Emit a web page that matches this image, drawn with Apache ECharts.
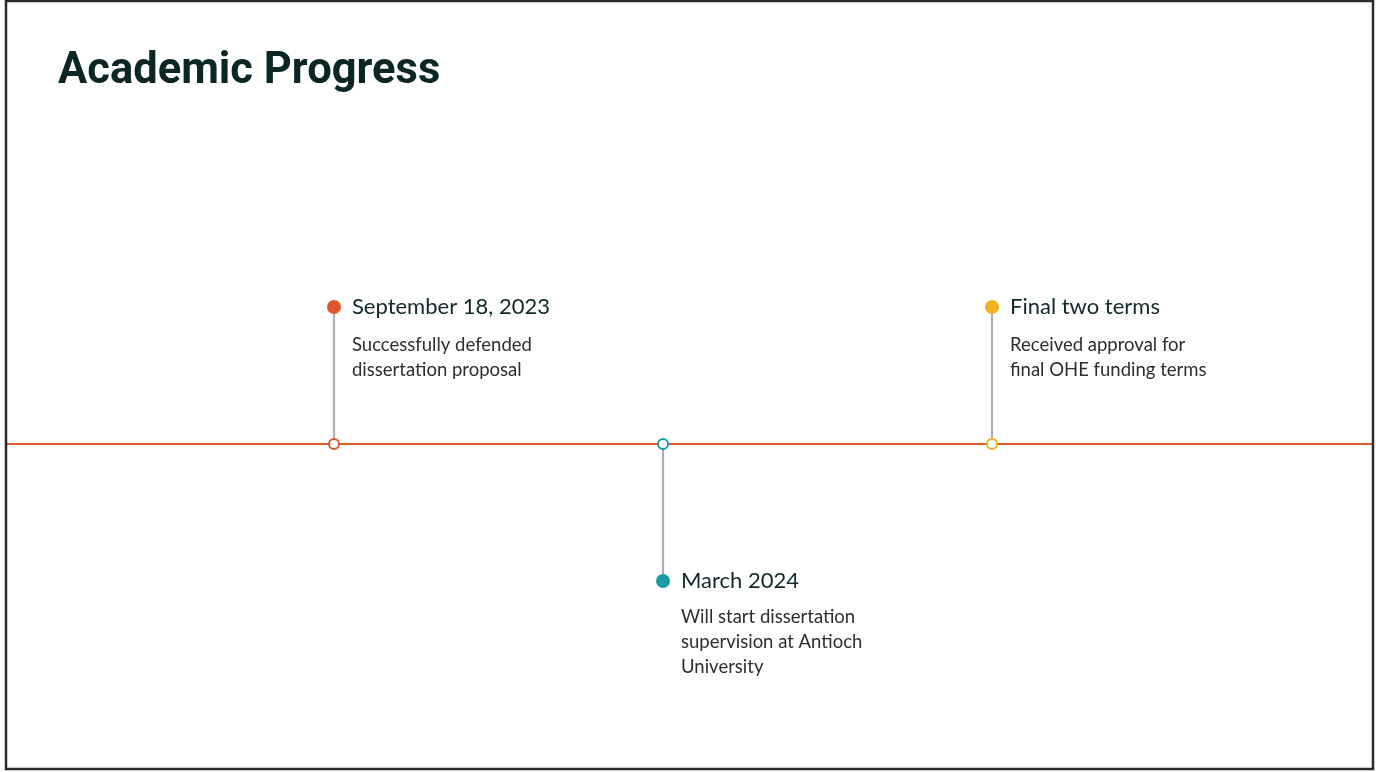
<!DOCTYPE html>
<html style="height: 100%">
	<head>
		<meta charset="utf-8"/>
		<script type="text/javascript" src="https://cdn.jsdelivr.net/npm/echarts@6/dist/echarts.min.js"></script>
	</head>
	<body style="height: 100%;margin: 0;background: #fff">
		<div id="container" style="width: 1376px;height: 772px"></div>
		<script type="text/javascript">
			// timeline data
			var eventDates = ['September 18, 2023', 'March 2024', 'Final two terms'];
			var eventNotes = [
				'Successfully defended\ndissertation proposal',
				'Will start dissertation\nsupervision at Antioch\nUniversity',
				'Received approval for\nfinal OHE funding terms'
			];
			var eventSlots = [1, 2, 3];     // position along the timeline
			var eventSides = [1, -1, 1];    // 1 = above the line, -1 = below
			var eventColors = ['#e0562b', '#1a9ba6', '#f0b323'];
			var lineExtent = [0, 4.155];

			var container = document.getElementById("container");
			var myChart = echarts.init(container);

			var series = [];
			// main timeline
			series.push({
				type: 'line',
				data: [[lineExtent[0], 0], [lineExtent[1], 0]],
				symbol: 'none',
				silent: true,
				z: 1,
				lineStyle: {color: '#e05a2b', width: 2.2}
			});
			// stems
			for(var i=0;i<eventSlots.length;i++) {
				series.push({
					type: 'line',
					data: [[eventSlots[i], 0], [eventSlots[i], eventSides[i]]],
					symbol: 'none',
					silent: true,
					z: 2,
					lineStyle: {color: '#b0b0b0', width: 2.2}
				});
			}
			var hollowData = [];
			var dotData = [];
			var noteData = [];
			for(var i=0;i<eventSlots.length;i++) {
				hollowData.push({
					value: [eventSlots[i], 0],
					itemStyle: {color: '#fff', borderColor: eventColors[i], borderWidth: 2, opacity: 1}
				});
				dotData.push({
					value: [eventSlots[i], eventSides[i]],
					name: eventDates[i],
					itemStyle: {color: eventColors[i], opacity: 1}
				});
				noteData.push({
					value: [eventSlots[i], eventSides[i]],
					name: eventNotes[i],
					label: {position: [25, eventSides[i] > 0 ? 33 : 31]}
				});
			}
			// hollow markers on the line
			series.push({
				type: 'scatter',
				data: hollowData,
				symbolSize: 10,
				silent: true,
				z: 5
			});
			// filled dots + date
			series.push({
				type: 'scatter',
				data: dotData,
				symbolSize: 14,
				silent: true,
				z: 6,
				label: {
					show: true,
					position: 'right',
					distance: 11,
					formatter: '{b}',
					fontFamily: 'Lato',
					fontSize: 22,
					color: '#0f2a29',
					opacity: 1
				}
			});
			// notes below the date
			series.push({
				type: 'scatter',
				data: noteData,
				symbolSize: 14,
				silent: true,
				z: 4,
				itemStyle: {color: 'rgba(0,0,0,0)', opacity: 1},
				label: {
					show: true,
					align: 'left',
					verticalAlign: 'top',
					formatter: '{b}',
					fontFamily: 'Lato',
					fontSize: 18.5,
					lineHeight: 25,
					color: '#2e2e2e',
					opacity: 1
				}
			});

			var option = {
				animation: false,
				backgroundColor: '#fff',
				title: {
					text: 'Academic Progress',
					left: 58,
					top: 50,
					padding: 0,
					textStyle: {
						fontFamily: 'Roboto',
						fontWeight: 'bold',
						fontSize: 43.5,
						color: '#0c2626'
					}
				},
				grid: {left: 5, right: 4, top: 307, bottom: 191},
				xAxis: {type: 'value', min: lineExtent[0], max: lineExtent[1], show: false},
				yAxis: {type: 'value', min: -1, max: 1, show: false},
				graphic: [{
					type: 'rect',
					shape: {x: 6, y: 1, width: 1367, height: 768},
					style: {fill: null, stroke: '#2b2b2b', lineWidth: 2.5},
					silent: true,
					z: 100
				}],
				series: series
			};
			myChart.setOption(option, true);
		</script>
	</body>
</html>
